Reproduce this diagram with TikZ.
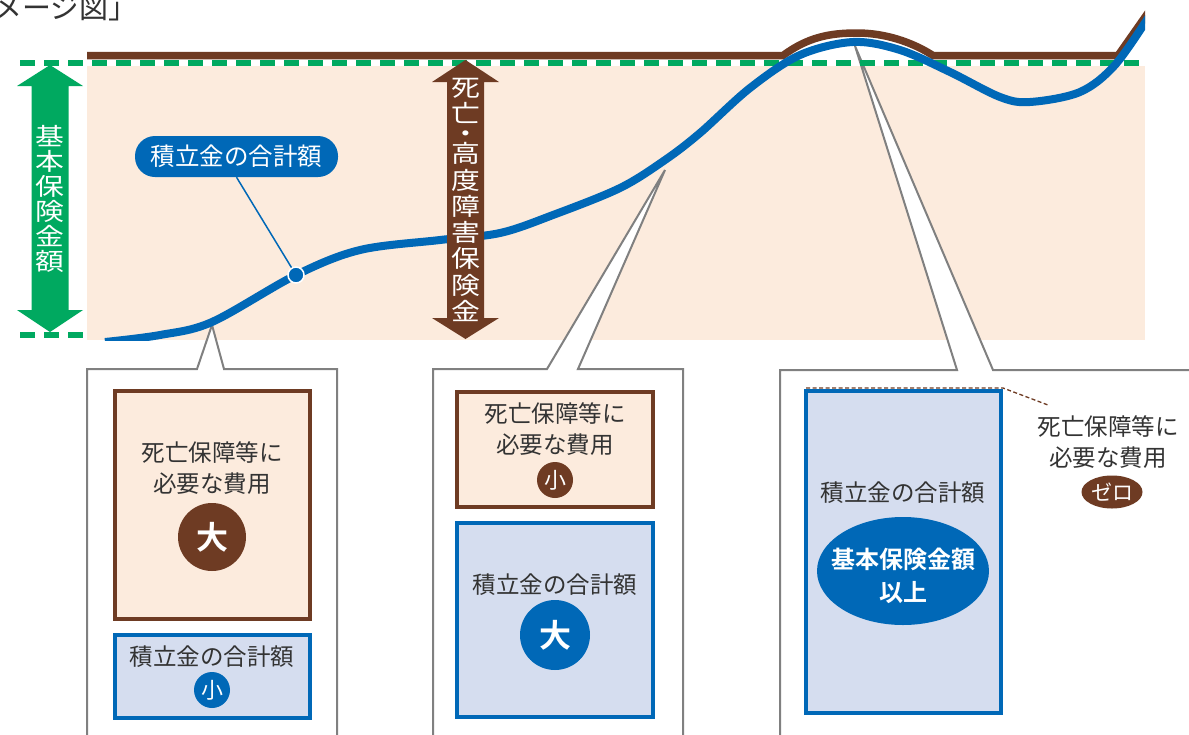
\documentclass[tikz,border=0pt]{standalone}
\usepackage{fontspec}
\setmainfont{Noto Sans CJK JP}[BoldFont={Noto Sans CJK JP Bold}]
\newfontfamily\tatefont{Noto Sans CJK JP}[FakeStretch=1.2]
\usetikzlibrary{shapes.geometric}
\definecolor{hoken}{HTML}{00A960}
\definecolor{shibo}{HTML}{6E3B23}
\definecolor{tsumi}{HTML}{0068B7}
\definecolor{kinari}{HTML}{FCEBDD}
\definecolor{usuao}{HTML}{D5DDEF}
\definecolor{nezumi}{HTML}{808080}
\definecolor{sumi}{HTML}{333333}

\begin{document}
\begin{tikzpicture}[x=1pt,y=-1pt,
                    every node/.style={inner sep=0pt,text=sumi},
                    txt/.style={align=center,font=\fontsize{23.5}{31}\selectfont}]
  \tikzstyle{fukidashi}=[draw=nezumi,line width=2pt,fill=white]
  \tikzstyle{chabox}=[draw=shibo,line width=4pt,fill=kinari]
  \tikzstyle{aobox}=[draw=tsumi,line width=4pt,fill=usuao]
  \tikzstyle{maru}=[circle,text=white]
  \tikzstyle{tate}=[align=center,text=white]
  \tikzstyle{tensen}=[hoken,line width=6pt,dash pattern=on 15pt off 9pt]

  \useasboundingbox (0,0) rectangle (1189,734);

  \node[anchor=base east,font=\fontsize{29}{29}\selectfont] (title) at (138,18) {メージ図」};

  \fill[kinari] (87,66) rectangle (1145,340);

  % callouts
  \path[fukidashi] (87,745) -- (87,369) -- (197,369) -- (212,325) -- (224,369) -- (337,369) -- (337,745);
  \path[fukidashi] (433,745) -- (433,369) -- (547,369) -- (665,170) -- (578,369) -- (683,369) -- (683,745);
  \path[fukidashi] (780,745) -- (780,370) -- (957,370) -- (855,46) -- (993,370) -- (1200,370) -- (1200,745);

  \draw[tensen] (20,63) -- (1145,63);
  \draw[tensen] (20,335) -- (86,335);

  \begin{scope}
    \clip (0,0) rectangle (1145,340);
    \draw[shibo,line width=7.5pt] (87,55.5) -- (783,55.5) .. controls (808,37) and (830,33) .. (857,33)
      .. controls (885,33) and (912,42) .. (933,55.5) -- (1118,55.5) -- (1150,10);
    \draw[tsumi,line width=8pt] plot[smooth,tension=0.55] coordinates {(105,342) (160,335) (212,322)
      (296,275) (360,250) (440,240) (500,233) (553,215) (620,188) (665,160) (700,133) (750,88)
      (800,55) (853,42) (900,50) (950,72) (1000,97) (1030,102) (1080,92) (1115,65) (1150,15)};
  \end{scope}

  \fill[hoken] (50,65) -- (83,86) -- (68.5,86) -- (68.5,310) -- (83,310) -- (50,332)
    -- (17,310) -- (31.5,310) -- (31.5,86) -- (17,86) -- cycle;
  \fill[shibo] (465.5,60) -- (499,82) -- (484,82) -- (484,318) -- (499,318) -- (465.5,339)
    -- (432,318) -- (447,318) -- (447,82) -- (432,82) -- cycle;
  \node[tate,font=\tatefont\fontsize{24}{25}\selectfont] (kihon) at (50,198.5) {基\\本\\保\\険\\金\\額};
  \node[tate,font=\tatefont\fontsize{24}{26.3}\selectfont] (shibou) at (465.5,200)
    {死\\亡\\[-6.3pt]・\\[-6.3pt]高\\度\\障\\害\\保\\険\\金};

  \node[rectangle,rounded corners=20pt,fill=tsumi,minimum width=203pt,minimum height=41pt,
        text=white,font=\fontsize{24.5}{24.5}\selectfont] (sumlabel) at (236.5,156.5) {積立金の合計額};
  \node[circle,fill=tsumi,draw=white,line width=1.5pt,minimum size=16pt] (dot) at (296,275) {};
  \draw[tsumi,line width=1.5pt] (sumlabel.south) -- (dot);

  % left
  \draw[chabox] (115,391) rectangle (310,619);
  \draw[aobox] (115,635) rectangle (310,718);
  \node[txt] (lneed) at (212,468) {死亡保障等に\\必要な費用};
  \node[maru,fill=shibo,minimum size=68pt,font=\bfseries\fontsize{32}{32}\selectfont] (lbig) at (212,537) {大};
  \node[txt] (lsum) at (212,657) {積立金の合計額};
  \node[maru,fill=tsumi,minimum size=36pt,font=\fontsize{22}{22}\selectfont] (lsmall) at (212,690) {小};

  % middle
  \draw[chabox] (457,392) rectangle (653,507);
  \draw[aobox] (457,523) rectangle (653,717);
  \node[txt] (mneed) at (555,429) {死亡保障等に\\必要な費用};
  \node[maru,fill=shibo,minimum size=36pt,font=\fontsize{22}{22}\selectfont] (msmall) at (555,480) {小};
  \node[txt] (msum) at (555,585) {積立金の合計額};
  \node[maru,fill=tsumi,minimum size=70pt,font=\bfseries\fontsize{32}{32}\selectfont] (mbig) at (555,635) {大};

  % right
  \draw[aobox] (806,391) rectangle (1001,713);
  \node[txt] (rsum) at (903,493) {積立金の合計額};
  \node[ellipse,fill=tsumi,minimum width=172pt,minimum height=108pt] (rover) at (903,571) {};
  \node[text=white,align=center,font=\bfseries\fontsize{24}{33}\selectfont] (rovertxt)
    at ([yshift=-5pt]rover.center) {基本保険金額\\以上};
  \node[txt] (zneed) at (1108,442) {死亡保障等に\\必要な費用};
  \node[ellipse,fill=shibo,minimum width=61pt,minimum height=33pt,text=white,
        font=\fontsize{21}{21}\selectfont] (zero) at (1112,492) {ゼロ};
  \coordinate (lead) at (1048,405);
  \draw[shibo,line width=1.3pt,dash pattern=on 4pt off 2.5pt] (806,388) -- (1003,388) -- (lead);
\end{tikzpicture}
\end{document}
